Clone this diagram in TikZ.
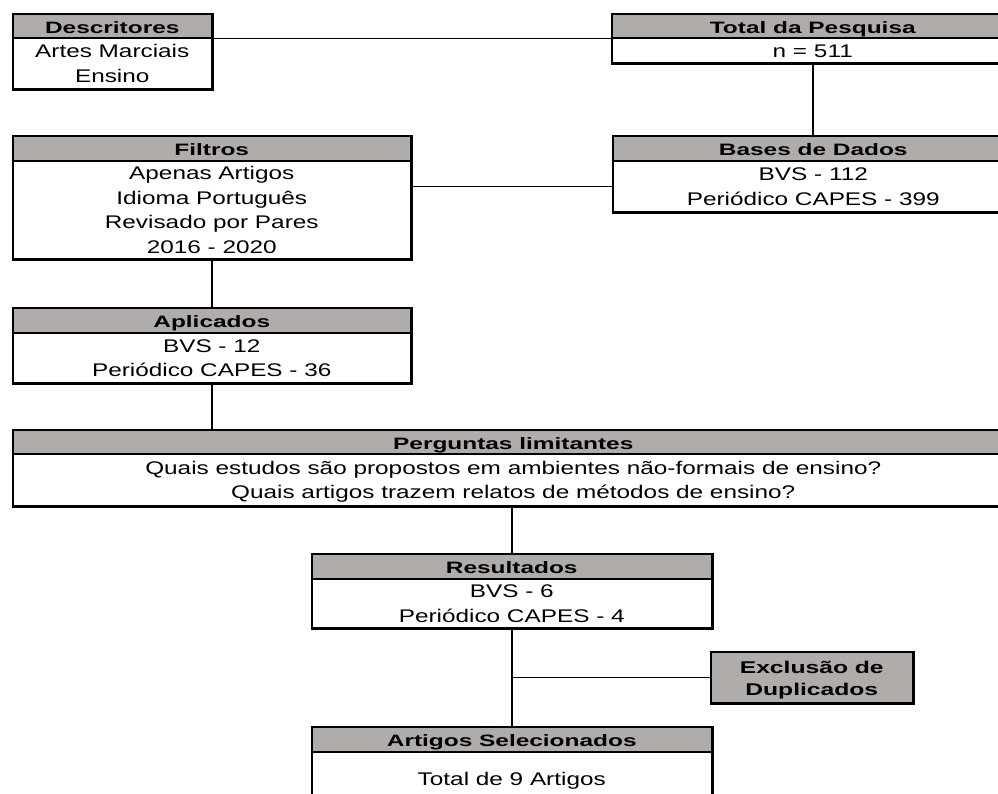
\documentclass[tikz,border=0pt]{standalone}
\usepackage{fontspec}
\newfontfamily\bodyf{Liberation Sans}[FakeStretch=1.33]
\newfontfamily\hdrf{Liberation Sans}[FakeStretch=1.48]
\newfontfamily\exclf{Liberation Sans}[FakeStretch=1.45]
\definecolor{hgray}{RGB}{176,172,170}
\newcommand\lnstrut{\rule[-5.5pt]{0pt}{24.5pt}}
\newcommand\exstrut{\rule[-3.5pt]{0pt}{22pt}}
\begin{document}
\begin{tikzpicture}[x=1pt,y=-1pt,
  hdr/.style={draw, line width=1.5pt, fill=hgray, anchor=north west, inner sep=0pt,
    text height=19.5pt, text depth=4.5pt, minimum height=25pt,
    font=\hdrf\bfseries\fontsize{16.5}{24}\selectfont},
  bodybox/.style={draw, line width=1.5pt, fill=white, anchor=north west, inner sep=0pt,
    align=center, font=\bodyf\fontsize{18.3}{24.5}\selectfont},
  exbox/.style={draw, line width=1.5pt, fill=hgray, anchor=north west, inner sep=0pt,
    align=center, font=\exclf\bfseries\fontsize{17}{22}\selectfont},
  shadowline/.style={line width=3.5pt, line join=miter},
  conn/.style={line width=1.5pt}]
\useasboundingbox (0,0) rectangle (998,793);

% Descritores
\node[hdr, minimum width=199pt, minimum height=24pt] (dH) at (12,13) {Descritores};
\node[bodybox, minimum width=199pt, minimum height=51pt] (dB) at (12,37) {\lnstrut Artes Marciais\\\lnstrut Ensino};
\draw[shadowline] (dB.south west) -- (dB.south east) -- (dH.north east);

% Total da Pesquisa
\node[hdr, minimum width=402pt, minimum height=24pt] (tH) at (611,13) {Total da Pesquisa};
\node[bodybox, minimum width=402pt, minimum height=25pt] (tB) at (611,37) {\lnstrut n = 511};
\draw[shadowline] (tB.south west) -- (tB.south east) -- (tH.north east);

% Bases de Dados
\node[hdr, minimum width=401pt] (bH) at (612,135) {Bases de Dados};
\node[bodybox, minimum width=401pt, minimum height=51pt] (bB) at (612,160) {\lnstrut BVS - 112\\\lnstrut Periódico CAPES - 399};
\draw[shadowline] (bB.south west) -- (bB.south east) -- (bH.north east);

% Filtros
\node[hdr, minimum width=398pt] (fH) at (12,135) {Filtros};
\node[bodybox, minimum width=398pt, minimum height=98pt] (fB) at (12,160) {\lnstrut Apenas Artigos\\\lnstrut Idioma Português\\\lnstrut Revisado por Pares\\\lnstrut 2016 - 2020};
\draw[shadowline] (fB.south west) -- (fB.south east) -- (fH.north east);

% Aplicados
\node[hdr, minimum width=398pt] (aH) at (12,307) {Aplicados};
\node[bodybox, minimum width=398pt, minimum height=50pt] (aB) at (12,332) {\lnstrut BVS - 12\\\lnstrut Periódico CAPES - 36};
\draw[shadowline] (aB.south west) -- (aB.south east) -- (aH.north east);

% Perguntas limitantes
\node[hdr, minimum width=1001pt, minimum height=24pt] (pH) at (12,429) {Perguntas limitantes};
\node[bodybox, minimum width=1001pt, minimum height=52pt] (pB) at (12,453) {\lnstrut Quais estudos são propostos em ambientes não-formais de ensino?\\\lnstrut Quais artigos trazem relatos de métodos de ensino?};
\draw[shadowline] (pB.south west) -- (pB.south east) -- (pH.north east);

% Resultados
\node[hdr, minimum width=400pt] (rH) at (311,553) {Resultados};
\node[bodybox, minimum width=400pt, minimum height=49pt] (rB) at (311,578) {\lnstrut BVS - 6\\\lnstrut Periódico CAPES - 4};
\draw[shadowline] (rB.south west) -- (rB.south east) -- (rH.north east);

% Exclusao de Duplicados
\node[exbox, minimum width=202pt, minimum height=51pt] (eX) at (710,651) {\exstrut Exclusão de\\\exstrut Duplicados};
\draw[shadowline] (eX.south west) -- (eX.south east) -- (eX.north east);

% Artigos Selecionados
\node[hdr, minimum width=400pt] (sH) at (311,726) {Artigos Selecionados};
\node[bodybox, minimum width=400pt, minimum height=53pt] (sB) at (311,751) {\lnstrut Total de 9 Artigos};
\draw[shadowline] (sB.south east) -- (sH.north east);

% connectors
\draw[conn] (dH.south east) -- (tH.south west);
\draw[conn] (tB.south) -- (tB.south |- bH.north);
\draw[conn] (bB.west) -- (bB.west -| fB.east);
\draw[conn] (fB.south) -- (fB.south |- aH.north);
\draw[conn] (aB.south) -- (aB.south |- pH.north);
\draw[conn] (rH.north |- pB.south) -- (rH.north);
\draw[conn] (rB.south) -- (rB.south |- sH.north);
\coordinate (br) at (rB.south |- eX.west);
\draw[conn] (br) -- (eX.west);
\end{tikzpicture}
\end{document}
